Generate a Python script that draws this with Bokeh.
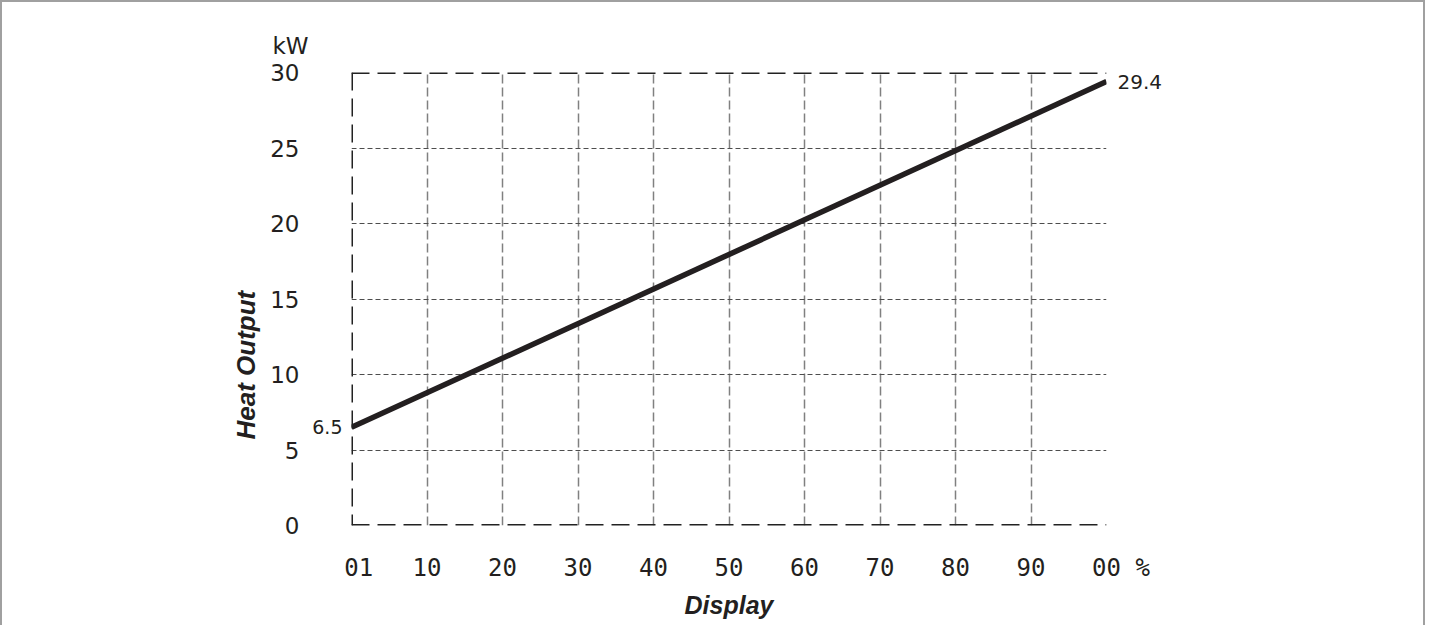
from bokeh.plotting import figure
from bokeh.models import Range1d, FixedTicker, Span, LinearAxis, Title
from bokeh.embed import file_html
from bokeh.resources import INLINE

# ---- data ----
display_pct = [0, 100]
heat_output_kw = [6.5, 29.4]
x_ticks = [0, 10, 20, 30, 40, 50, 60, 70, 80, 90, 100]
x_tick_labels = ["\u00a001", "10", "20", "30", "40", "50", "60", "70", "80", "90",
                 "\u00a0\u00a000\u00a0%"]
y_ticks = [0, 5, 10, 15, 20, 25, 30]
y_tick_labels = ["0", "5", "10", "15", "20", "25", "30"]
y_unit = "kW"
x_title = "Display"
y_title = "Heat Output"

INK = "#231f20"

p = figure(
    frame_width=755, frame_height=453,
    min_border_left=349, min_border_right=317,
    min_border_top=70, min_border_bottom=100,
    x_range=Range1d(0, 100), y_range=Range1d(0, 30),
    output_backend="svg", toolbar_location=None,
)
p.styles = {"border-left": "2px solid #a0a0a0", "border-top": "2px solid #a0a0a0",
            "border-right": "2px solid #a0a0a0"}
p.outline_line_color = None
p.background_fill_color = "white"
p.border_fill_color = "white"

# x axis
p.xaxis.ticker = FixedTicker(ticks=x_ticks)
p.xaxis.major_label_overrides = {t: l for t, l in zip(x_ticks, x_tick_labels)}
p.xaxis.axis_line_color = None
p.xaxis.major_tick_line_color = None
p.xaxis.minor_tick_line_color = None
p.xaxis.major_tick_out = 0
p.xaxis.major_label_standoff = 28
p.xaxis.major_label_text_font = "DejaVu Sans Mono"
p.xaxis.major_label_text_font_size = "24px"
p.xaxis.major_label_text_color = INK
p.xaxis.axis_label = x_title
p.xaxis.axis_label_text_font = "Liberation Sans"
p.xaxis.axis_label_text_font_style = "bold italic"
p.xaxis.axis_label_text_font_size = "25px"
p.xaxis.axis_label_text_color = INK
p.xaxis.axis_label_standoff = 6

# main y axis
main_y = p.left[0]
main_y.ticker = FixedTicker(ticks=y_ticks)
main_y.major_label_overrides = {t: l for t, l in zip(y_ticks, y_tick_labels)}
main_y.axis_line_color = None
main_y.major_tick_line_color = None
main_y.minor_tick_line_color = None
main_y.major_tick_out = 0
main_y.major_label_standoff = 10
main_y.major_label_text_font = "DejaVu Sans"
main_y.major_label_text_font_size = "23px"
main_y.major_label_text_color = INK

# value annotations via extra axes
def value_axis(val, size, standoff):
    ax = LinearAxis(ticker=FixedTicker(ticks=[val]),
                    major_label_overrides={val: f"{val}"})
    ax.axis_line_color = None
    ax.major_tick_line_color = None
    ax.minor_tick_line_color = None
    ax.major_tick_out = 0
    ax.major_tick_in = 0
    ax.major_label_standoff = standoff
    ax.major_label_text_font = "DejaVu Sans"
    ax.major_label_text_font_size = size
    ax.major_label_text_color = INK
    return ax

start_axis = value_axis(heat_output_kw[0], "19px", 9)
end_axis = value_axis(heat_output_kw[-1], "20px", 11)
p.add_layout(end_axis, "right")
p.left = [start_axis, main_y]

# titles: unit above, y title on the left
p.add_layout(Title(text=y_unit, align="left", offset=-79, standoff=28,
                   padding=(0, 0, 5, 0),
                   text_font="DejaVu Sans", text_font_style="normal",
                   text_font_size="23px", text_color=INK), "above")
p.add_layout(Title(text=y_title, align="left", offset=86, standoff=13,
                   text_font="Liberation Sans", text_font_style="bold italic",
                   text_font_size="26px", text_color=INK), "left")

# grid
p.xgrid.ticker = FixedTicker(ticks=x_ticks[1:])
p.xgrid.grid_line_color = "#808080"
p.xgrid.grid_line_width = 1.5
p.xgrid.grid_line_dash = "9 4"
p.ygrid.ticker = FixedTicker(ticks=y_ticks[1:-1])
p.ygrid.grid_line_color = "#4d4d4d"
p.ygrid.grid_line_width = 1
p.ygrid.grid_line_dash = "5 3"

# frame edges (left, bottom, top)
for loc, dim in [(0, "height"), (0, "width"), (30, "width")]:
    p.add_layout(Span(location=loc, dimension=dim, line_color="#222222",
                      line_width=3, line_dash="18 8"))

# data line
p.line(display_pct, heat_output_kw, line_color=INK, line_width=5.5)

open("out.html", "w").write(file_html(p, INLINE))
